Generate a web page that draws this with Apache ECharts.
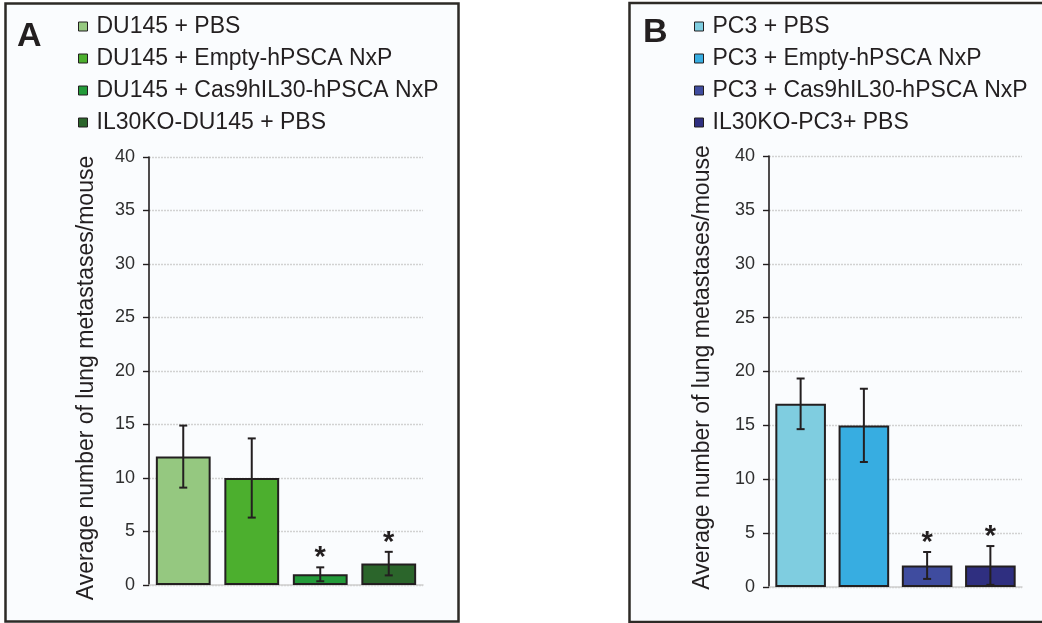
<!DOCTYPE html>
<html><head><meta charset="utf-8">
<script src="https://cdn.jsdelivr.net/npm/echarts@6/dist/echarts.min.js"></script>
<style>html,body{margin:0;padding:0;background:#fff}#c{width:1042px;height:623px}</style>
</head><body><div id="c"></div>
<script>
// ---- data ----
const groupsA = ['DU145 + PBS', 'DU145 + Empty-hPSCA NxP', 'DU145 + Cas9hIL30-hPSCA NxP', 'IL30KO-DU145 + PBS'];
const valuesA = [12, 10, 1, 2];
const errorsA = [2.9, 3.7, 0.65, 1.1];
const starsA = ['', '', '*', '*'];
const colorsA = ['#95c880', '#4caf2e', '#239b3a', '#2b652b'];

const groupsB = ['PC3 + PBS', 'PC3 + Empty-hPSCA NxP', 'PC3 + Cas9hIL30-hPSCA NxP', 'IL30KO-PC3+ PBS'];
const valuesB = [17, 15, 2, 2];
const errorsB = [2.35, 3.4, 1.25, 1.8];
const starsB = ['', '', '*', '*'];
const colorsB = ['#7fcde0', '#37ade1', '#3f4c9f', '#2f2f80'];

const yMin = 0, yMax = 40, yStep = 5;
const yTitle = 'Average number of lung metastases/mouse';
const panelLetters = ['A', 'B'];

// ---- chart ----
const ink = '#231f20';
const FF = '"Liberation Sans", Arial, sans-serif';
const chart = echarts.init(document.getElementById('c'), null, {renderer: 'canvas'});

function makeErr(errs, stars) {
  return function (params, api) {
    const i = params.dataIndex;
    const x = api.value(0), v = api.value(1), e = errs[i];
    const top = api.coord([x, v + e]);
    const bot = api.coord([x, Math.max(v - e, 0)]);
    const cap = 4;
    const st = {stroke: ink, lineWidth: 2};
    const ch = [
      {type: 'line', shape: {x1: top[0], y1: top[1], x2: bot[0], y2: bot[1]}, style: st},
      {type: 'line', shape: {x1: top[0] - cap, y1: top[1], x2: top[0] + cap, y2: top[1]}, style: st},
      {type: 'line', shape: {x1: bot[0] - cap, y1: bot[1], x2: bot[0] + cap, y2: bot[1]}, style: st}
    ];
    if (stars[i]) {
      ch.push({type: 'text', style: {text: stars[i], x: top[0], y: top[1] - 9, align: 'center', verticalAlign: 'middle',
        font: 'bold 29px ' + FF, fill: ink}});
    }
    return {type: 'group', children: ch};
  };
}

function yAxis(gi, gap, pad) {
  return {
    type: 'value', gridIndex: gi, min: yMin, max: yMax, interval: yStep,
    name: yTitle, nameLocation: 'middle', nameGap: gap, nameRotate: 90,
    nameTextStyle: {fontSize: 23, color: ink, fontFamily: FF, padding: pad},
    axisLine: {show: true, lineStyle: {color: ink, width: 1.6}},
    axisTick: {show: true, length: 6, lineStyle: {color: ink, width: 1.4}},
    axisLabel: {fontSize: 18, color: '#2e2e2e', margin: 14, fontFamily: FF},
    splitLine: {show: true, lineStyle: {color: '#d2d2d2', width: 1.3, type: [2, 1]}}
  };
}
function xAxis(gi, cats) {
  return {
    type: 'category', gridIndex: gi, data: cats,
    axisLine: {show: true, lineStyle: {color: '#cfcfcf', width: 1.5}},
    axisTick: {show: false}, axisLabel: {show: false}
  };
}
function barSeries(gi, cats, vals, colors, stack) {
  return cats.map((name, i) => ({
    type: 'bar', name: name, xAxisIndex: gi, yAxisIndex: gi, stack: stack,
    barCategoryGap: '20%', barGap: '-100%',
    data: vals.map((v, j) => (j === i ? v : '-')),
    itemStyle: {color: colors[i], borderColor: ink, borderWidth: 2},
    emphasis: {disabled: true}
  }));
}
function legend(cats, left) {
  return {
    data: cats, orient: 'vertical', left: left, top: 15, padding: 0, itemGap: 9,
    itemWidth: 9, itemHeight: 9, icon: 'rect', selectedMode: false,
    itemStyle: {borderColor: ink, borderWidth: 1},
    textStyle: {fontSize: 23, color: ink, lineHeight: 22, padding: [0, 0, 0, 4], fontFamily: FF}
  };
}

const option = {
  backgroundColor: '#ffffff',
  animation: false,
  grid: [
    {left: 149, right: 1042 - 423, top: 157, bottom: 623 - 585},
    {left: 769, right: 1042 - 1022, top: 156, bottom: 623 - 587}
  ],
  xAxis: [xAxis(0, groupsA), xAxis(1, groupsB)],
  yAxis: [yAxis(0, 51, [0, 14, 0, 0]), yAxis(1, 55, [0, 0, 0, 8])],
  legend: [legend(groupsA, 78), legend(groupsB, 694)],
  graphic: [
    {type: 'rect', z: -10, shape: {x: 5.5, y: 3.5, width: 453, height: 618}, style: {fill: '#fafcfe', stroke: '#2d2a26', lineWidth: 2.5}},
    {type: 'rect', z: -10, shape: {x: 629.5, y: 3, width: 420, height: 619}, style: {fill: '#fafcfe', stroke: '#2d2a26', lineWidth: 2.5}},
    {type: 'text', z: 10, style: {text: panelLetters[0], x: 17, y: 37, verticalAlign: 'middle', font: 'bold 34px ' + FF, fill: ink}},
    {type: 'text', z: 10, style: {text: panelLetters[1], x: 643, y: 33, verticalAlign: 'middle', font: 'bold 34px ' + FF, fill: ink}}
  ],
  series: [
    ...barSeries(0, groupsA, valuesA, colorsA, 'a'),
    ...barSeries(1, groupsB, valuesB, colorsB, 'b'),
    {type: 'custom', xAxisIndex: 0, yAxisIndex: 0, z: 5, renderItem: makeErr(errorsA, starsA),
      data: valuesA.map((v, i) => [i, v])},
    {type: 'custom', xAxisIndex: 1, yAxisIndex: 1, z: 5, renderItem: makeErr(errorsB, starsB),
      data: valuesB.map((v, i) => [i, v])}
  ]
};
chart.setOption(option);
</script>
</body></html>
